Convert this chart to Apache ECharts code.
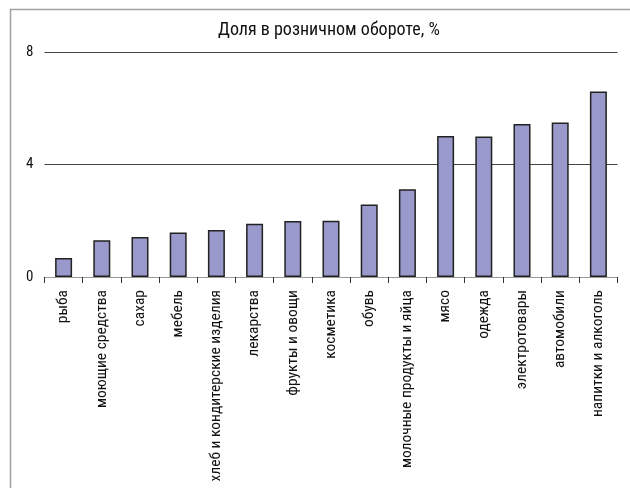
<!DOCTYPE html>
<html>
<head>
<meta charset="utf-8">
<script src="https://cdn.jsdelivr.net/npm/echarts@6/dist/echarts.min.js"></script>
<style>
html,body{margin:0;padding:0;background:#fff;}
#chart{width:630px;height:488px;}
</style>
</head>
<body>
<div id="chart"></div>
<script>
var titleText = 'Доля в розничном обороте, %';
var categories = ['рыба','моющие средства','сахар','мебель','хлеб и кондитерские изделия','лекарства','фрукты и овощи','косметика','обувь','молочные продукты и яйца','мясо','одежда','электротовары','автомобили','напитки и алкоголь'];
var values = [0.68, 1.31, 1.42, 1.58, 1.67, 1.89, 1.99, 2.0, 2.58, 3.12, 5.01, 5.0, 5.44, 5.49, 6.6];
var yTicks = [0, 4, 8];

var FONT = '"Roboto Condensed","DejaVu Sans Condensed",sans-serif';
var chart = echarts.init(document.getElementById('chart'), null, {renderer:'canvas'});
chart.setOption({
  backgroundColor:'#fff',
  animation:false,
  title:{
    text:titleText,
    left:213, top:16,
    textStyle:{fontFamily:FONT, fontSize:18, fontWeight:'normal', color:'#111'}
  },
  graphic:[{
    type:'rect', z:-1,
    shape:{x:10.5, y:9.5, width:700, height:600},
    style:{fill:'none', stroke:'#a0a0a0', lineWidth:1.5}
  }],
  grid:{left:44.5, right:12.5, top:52, bottom:211, containLabel:false},
  xAxis:{
    type:'category',
    data:categories,
    boundaryGap:true,
    axisLine:{show:true, lineStyle:{color:'#999', width:1.2}},
    axisTick:{show:true, length:6, lineStyle:{color:'#333', width:1}},
    axisLabel:{rotate:90, interval:0, margin:13, fontFamily:FONT, fontSize:15.5, color:'#111'}
  },
  yAxis:{
    type:'value',
    min:yTicks[0], max:yTicks[yTicks.length-1], interval:4,
    axisLine:{show:false},
    axisTick:{show:false},
    splitLine:{show:true, lineStyle:{color:'#444', width:1}},
    axisLabel:{margin:11, fontFamily:FONT, fontSize:15, color:'#111'}
  },
  series:[{
    type:'bar',
    data:values,
    barWidth:17,
    itemStyle:{color:'#9999cc', borderColor:'#222', borderWidth:1.5}
  }]
});
</script>
</body>
</html>
